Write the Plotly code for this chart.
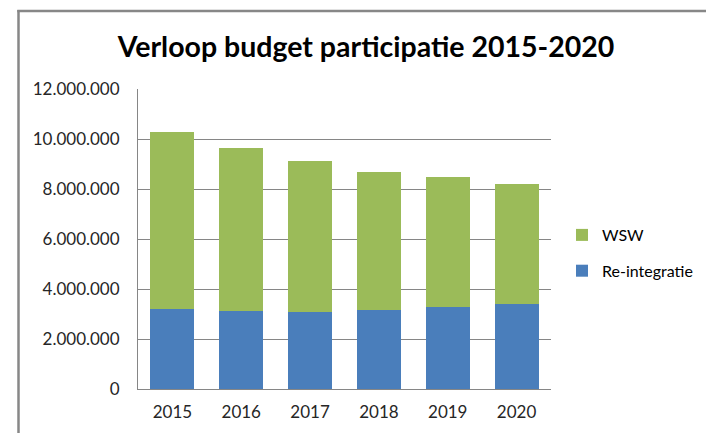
import plotly.graph_objects as go

years = ["2015", "2016", "2017", "2018", "2019", "2020"]
reintegratie = [3190000, 3110000, 3070000, 3150000, 3290000, 3410000]
wsw = [7100000, 6530000, 6050000, 5540000, 5180000, 4790000]
y_ticks = [0, 2000000, 4000000, 6000000, 8000000, 10000000, 12000000]

W, H = 706, 433
ml, mr, mt, mb = 138, 155, 89, 44
pw, ph = W - ml - mr, H - mt - mb

def px_x(px):
    return (px - ml) / pw

def px_y(py):
    return (H - mb - py) / ph

font_family = "Lato, 'Open Sans', sans-serif"

fig = go.Figure()
fig.add_trace(go.Bar(x=years, y=reintegratie, name="Re-integratie",
                     legendgroup="a", legendrank=2,
                     marker=dict(color="#4A7EBB", line=dict(width=0))))
fig.add_trace(go.Bar(x=years, y=wsw, name="WSW",
                     legendgroup="b", legendrank=1,
                     marker=dict(color="#9BBB59", line=dict(width=0))))

fig.update_layout(
    width=W, height=H,
    margin=dict(l=ml, r=mr, t=mt, b=mb, autoexpand=False),
    barmode="stack",
    bargap=0.36,
    separators=",.",
    plot_bgcolor="white",
    paper_bgcolor="white",
    font=dict(family=font_family, size=17, color="#262626"),
    title=dict(text="<b>Verloop budget participatie 2015-2020</b>",
               x=px_x(366), xref="paper", xanchor="center",
               y=1 - 47 / H, yanchor="middle",
               font=dict(size=28.5, color="#000000", family=font_family)),
    legend=dict(x=px_x(562), y=px_y(253), xanchor="left", yanchor="middle",
                traceorder="grouped", font=dict(size=16, color="#000000"),
                bgcolor="rgba(0,0,0,0)", itemwidth=30, tracegroupgap=12),
    xaxis=dict(showgrid=False, showline=True, linecolor="#868686", linewidth=1,
               ticks="", ticklabelstandoff=8,
               tickfont=dict(size=17, color="#262626")),
    yaxis=dict(range=[0, 12000000], tickvals=y_ticks, tickformat=",d",
               showgrid=True, gridcolor="#868686", gridwidth=1,
               showline=True, linecolor="#868686", linewidth=1,
               zeroline=False, ticks="", ticklabelstandoff=14,
               tickfont=dict(size=17, color="#262626")),
    shapes=[
        dict(type="line", xref="paper", yref="paper",
             x0=px_x(18.5), x1=px_x(18.5), y0=px_y(10), y1=px_y(445),
             line=dict(color="#878787", width=2.5)),
        dict(type="line", xref="paper", yref="paper",
             x0=px_x(17.3), x1=px_x(720), y0=px_y(11), y1=px_y(11),
             line=dict(color="#878787", width=2.5)),
    ],
)

fig.write_html("out.html")
